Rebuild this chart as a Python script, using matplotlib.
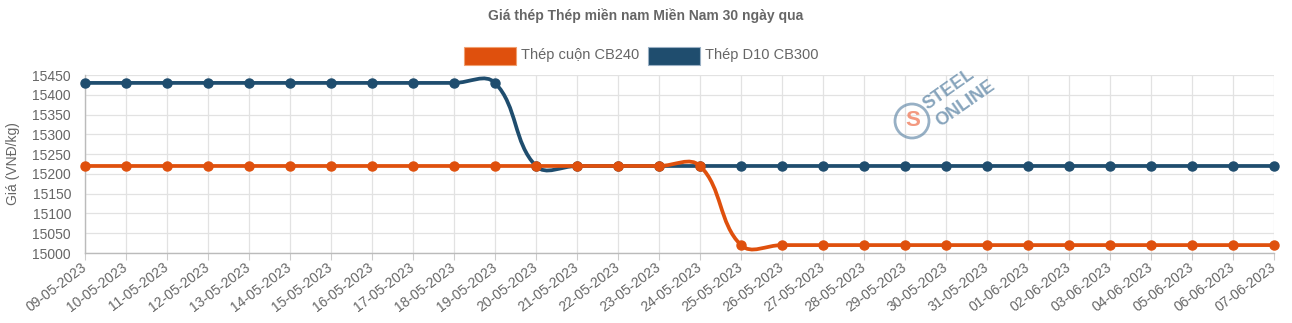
import matplotlib
matplotlib.use("Agg")
import matplotlib.pyplot as plt
import numpy as np
from matplotlib.path import Path
from matplotlib.patches import PathPatch, Circle

plt.rcParams["font.family"] = ["Liberation Sans", "DejaVu Sans"]

dates = ["09-05-2023", "10-05-2023", "11-05-2023", "12-05-2023", "13-05-2023",
         "14-05-2023", "15-05-2023", "16-05-2023", "17-05-2023", "18-05-2023",
         "19-05-2023", "20-05-2023", "21-05-2023", "22-05-2023", "23-05-2023",
         "24-05-2023", "25-05-2023", "26-05-2023", "27-05-2023", "28-05-2023",
         "29-05-2023", "30-05-2023", "31-05-2023", "01-06-2023", "02-06-2023",
         "03-06-2023", "04-06-2023", "05-06-2023", "06-06-2023", "07-06-2023"]
cb240 = [15220] * 16 + [15020] * 14
d10_cb300 = [15430] * 11 + [15220] * 19
series_names = ["Thép cuộn CB240", "Thép D10 CB300"]
colors = ["#df500d", "#1f4d6e"]

W, H = 1292, 323
fig = plt.figure(figsize=(W / 100, H / 100), dpi=100)
ax = fig.add_axes([85 / W, 1 - 253 / H, (1274 - 85) / W, (253 - 75) / H])
ax.set_xlim(0, len(dates) - 1)
ax.set_ylim(15000, 15450)

def spline_path(xs, ys, tension=0.4):
    fig.canvas.draw()
    pts = ax.transData.transform(np.column_stack([xs, ys]))
    n = len(pts)
    cp_prev = np.zeros_like(pts)
    cp_next = np.zeros_like(pts)
    for i in range(n):
        p0 = pts[i - 1] if i > 0 else pts[i]
        p1 = pts[i]
        p2 = pts[i + 1] if i < n - 1 else pts[i]
        d01 = np.hypot(*(p1 - p0))
        d12 = np.hypot(*(p2 - p1))
        tot = d01 + d12
        s01 = d01 / tot if tot else 0
        s12 = d12 / tot if tot else 0
        fa, fb = tension * s01, tension * s12
        cp_prev[i] = p1 - fa * (p2 - p0)
        cp_next[i] = p1 + fb * (p2 - p0)
    verts = [pts[0]]
    codes = [Path.MOVETO]
    for i in range(n - 1):
        verts += [cp_next[i], cp_prev[i + 1], pts[i + 1]]
        codes += [Path.CURVE4] * 3
    inv = ax.transData.inverted()
    return Path(inv.transform(np.array(verts)), codes)

x = np.arange(len(dates))
for k, (vals, c) in enumerate(zip([cb240, d10_cb300], colors)):
    z = 5 - 2 * k
    p = spline_path(x, vals)
    ax.add_patch(PathPatch(p, facecolor="none", edgecolor=c, lw=2.7, zorder=z,
                           capstyle="round", joinstyle="round"))
    ax.plot(x, vals, "o", color=c, ms=6.5, zorder=z + 0.5, clip_on=False)

ax.set_yticks(np.arange(15000, 15451, 50))
ax.set_xticks(x)
ax.set_xticklabels(dates, rotation=37, ha="right", va="center", rotation_mode="anchor")
ax.tick_params(axis="both", colors="#666666", labelsize=10, width=0.8)
ax.tick_params(axis="x", length=5, pad=4, color="#cccccc")
ax.tick_params(axis="y", length=0, pad=10)
for lab in ax.get_xticklabels() + ax.get_yticklabels():
    lab.set_color("#666666")
ax.grid(True, color="#e2e2e2", lw=0.9, zorder=0)
ax.set_axisbelow(True)
for s in ["top", "right"]:
    ax.spines[s].set_visible(False)
for s in ["left", "bottom"]:
    ax.spines[s].set_color("#bbbbbb")
    ax.spines[s].set_linewidth(1)
ax.set_ylabel("Giá (VNĐ/kg)", color="#666666", fontsize=10)
ax.yaxis.set_label_coords(-65 / (1274 - 85), 0.5)

fig.text(0.5, 1 - 16 / H, "Giá thép Thép miền nam Miền Nam 30 ngày qua",
         ha="center", va="center", fontsize=10, fontweight="bold", color="#666666")

# legend
lx = [464, 648]
for xx, name, c in zip(lx, series_names, colors):
    fig.patches.append(plt.Rectangle((xx / W, 1 - 65 / H), 52 / W, 18 / H,
                                     transform=fig.transFigure, facecolor=c,
                                     edgecolor="#f0a070" if c == colors[0] else "#9ab0c4",
                                     lw=0.8))
    fig.text((xx + 57) / W, 1 - 55.5 / H, name, ha="left", va="center",
             fontsize=10.5, color="#666666")

# watermark
wm = "#5f86a6"
fig.text(949 / W, 1 - 90 / H, "STEEL", rotation=35, ha="center", va="center",
         fontsize=13, fontweight="bold", color=wm, alpha=0.75)
fig.text(966 / W, 1 - 104 / H, "ONLINE", rotation=35, ha="center", va="center",
         fontsize=13, fontweight="bold", color=wm, alpha=0.75)
circ = Circle((912, H - 121), 17, transform=None, facecolor="none",
              edgecolor=wm, lw=2, alpha=0.65)
fig.patches.append(circ)
fig.text(913 / W, 1 - 121 / H, "S", ha="center", va="center", fontsize=16,
         fontweight="bold", color="#f08060", alpha=0.8)

fig.savefig("out.png", dpi=100)
